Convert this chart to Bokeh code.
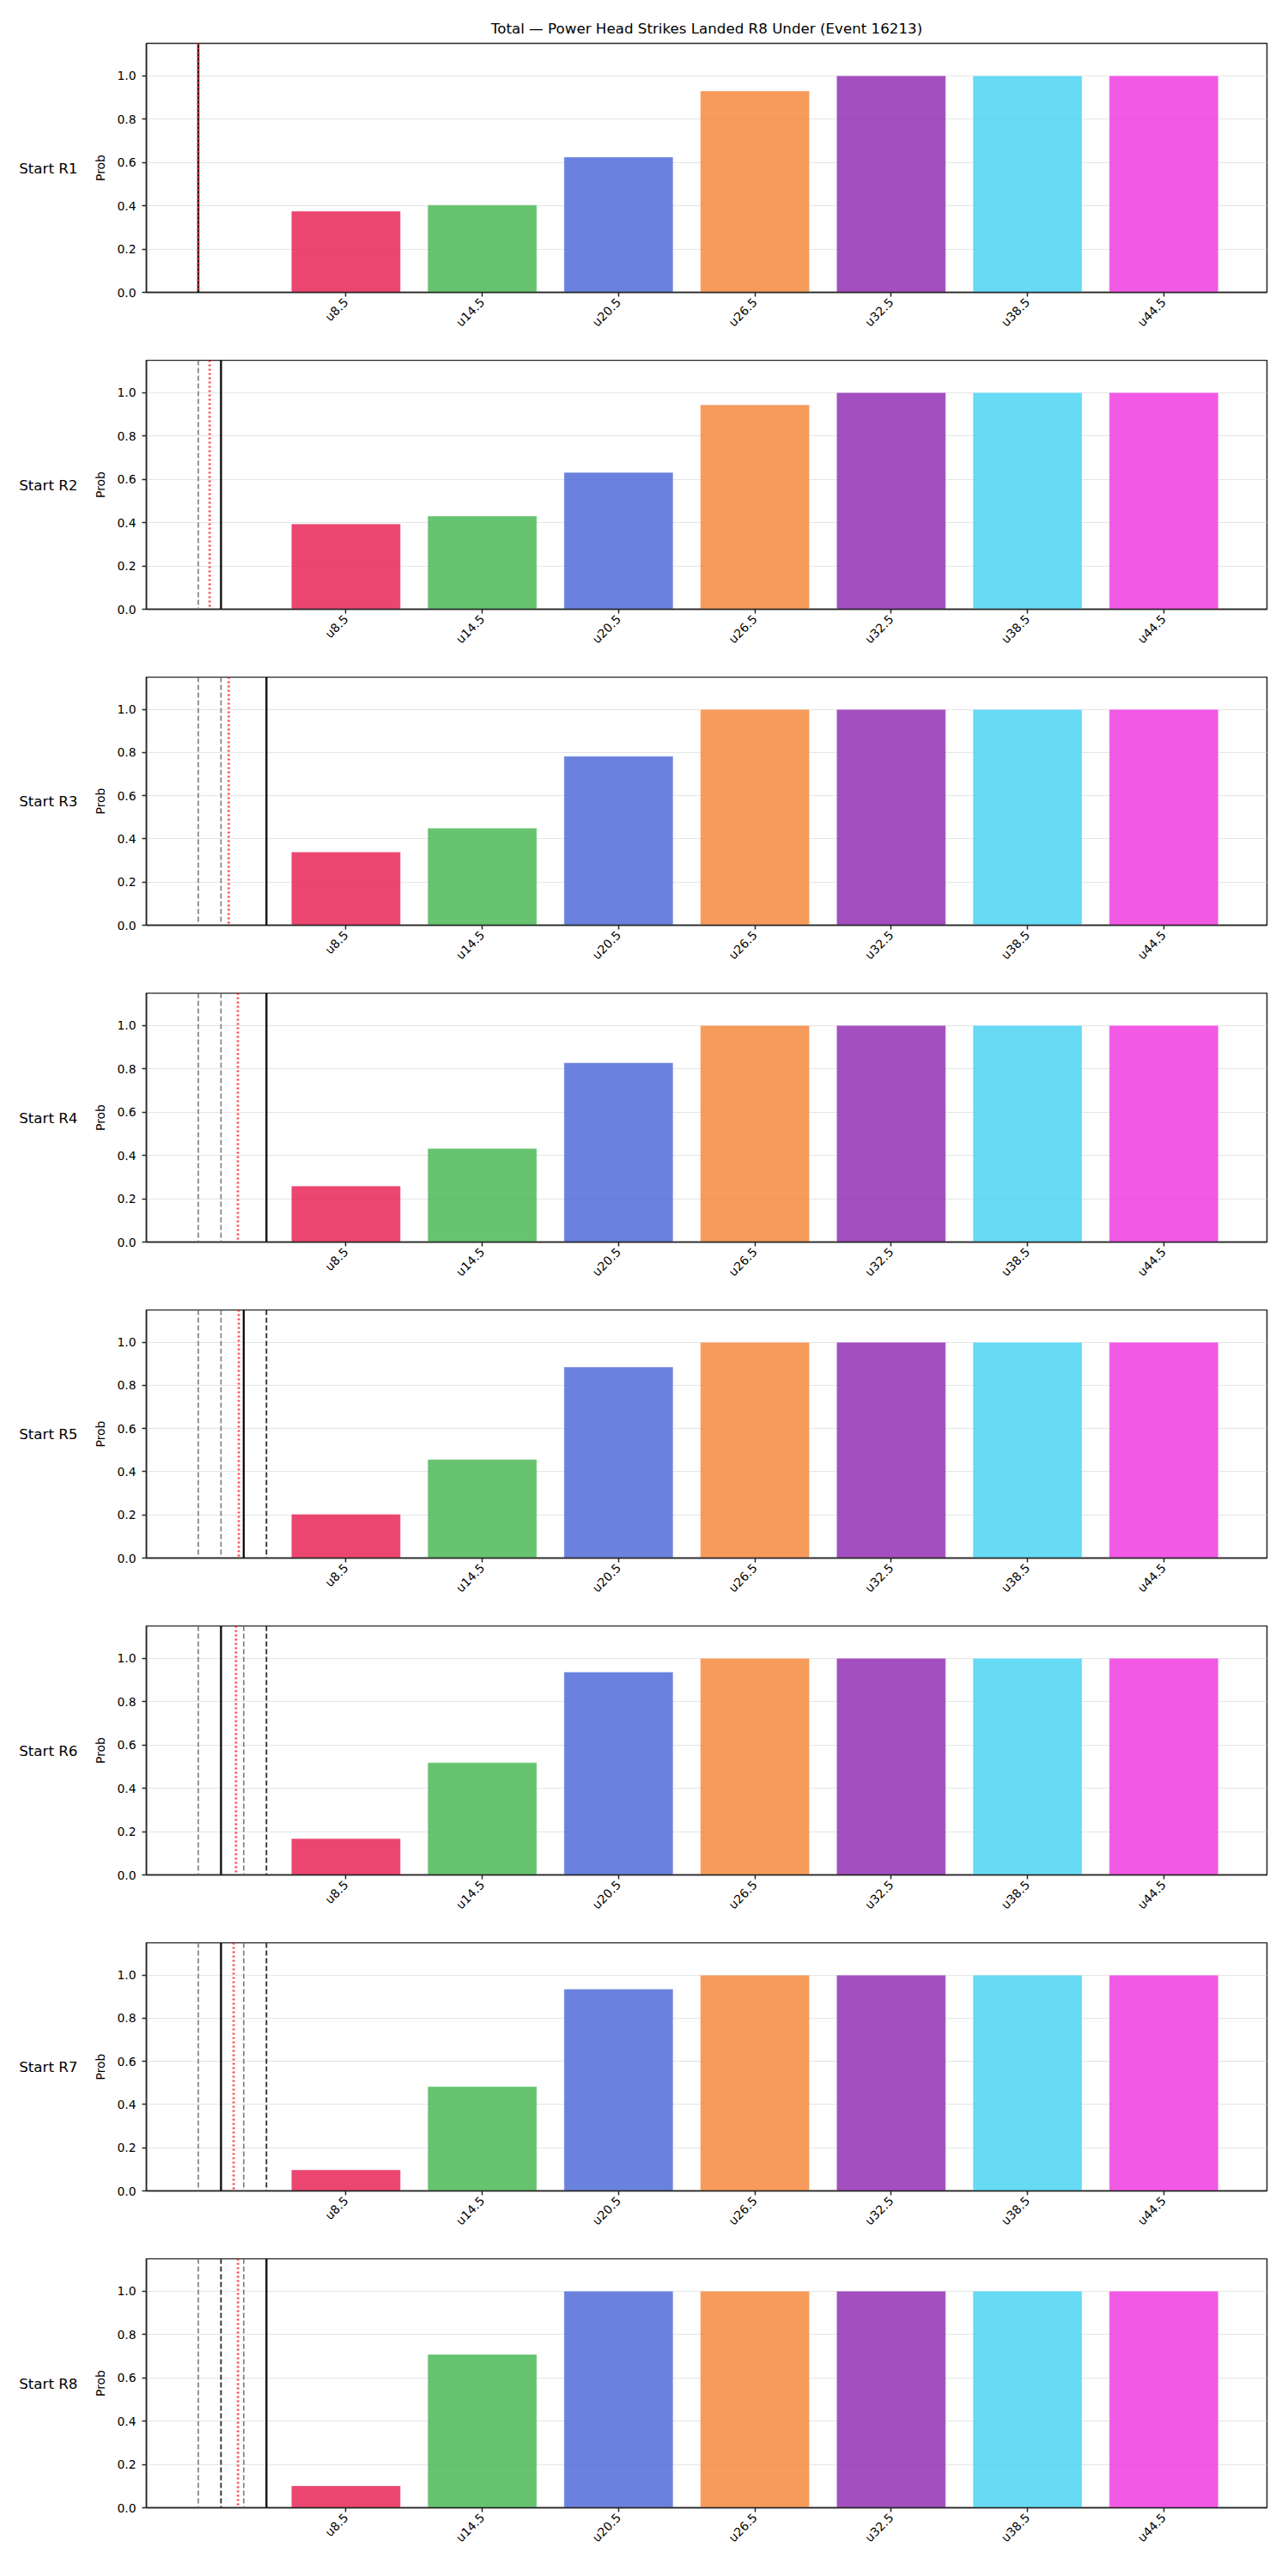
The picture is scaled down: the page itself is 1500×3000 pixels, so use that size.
import math

from bokeh.embed import file_html
from bokeh.layouts import column
from bokeh.models import FixedTicker, LinearAxis, NumeralTickFormatter, Range1d, Span
from bokeh.plotting import figure
from bokeh.resources import INLINE

TITLE = "Total — Power Head Strikes Landed R8 Under (Event 16213)"

# Under lines (x categories) and their bar colours
lines = ["u8.5", "u14.5", "u20.5", "u26.5", "u32.5", "u38.5", "u44.5"]
bar_colors = ["#e62657", "#4bb856", "#506cd8", "#f48a3e", "#9330b4", "#4cd4f2", "#f03ce1"]

# One row per starting round
starts = ["Start R1", "Start R2", "Start R3", "Start R4",
          "Start R5", "Start R6", "Start R7", "Start R8"]

# Probability of each under line, one list per line, indexed by starting round
prob_u8_5 = [0.375, 0.394, 0.339, 0.259, 0.203, 0.168, 0.097, 0.101]
prob_u14_5 = [0.403, 0.430, 0.450, 0.432, 0.457, 0.518, 0.483, 0.708]
prob_u20_5 = [0.625, 0.632, 0.783, 0.828, 0.885, 0.937, 0.935, 1.000]
prob_u26_5 = [0.930, 0.944, 1.000, 1.000, 1.000, 1.000, 1.000, 1.000]
prob_u32_5 = [1.000, 1.000, 1.000, 1.000, 1.000, 1.000, 1.000, 1.000]
prob_u38_5 = [1.000, 1.000, 1.000, 1.000, 1.000, 1.000, 1.000, 1.000]
prob_u44_5 = [1.000, 1.000, 1.000, 1.000, 1.000, 1.000, 1.000, 1.000]
probs = [prob_u8_5, prob_u14_5, prob_u20_5, prob_u26_5, prob_u32_5, prob_u38_5, prob_u44_5]

# Round markers drawn left of the bars (x in bar units)
round_marks = [-1.0833, -0.9167, -0.75, -0.5833]
solid_mark = [0, 1, 3, 3, 2, 1, 1, 3]
gray_dashed_marks = [[], [0], [0, 1], [0, 1], [0, 1], [0, 2], [0, 2], [0, 2]]
dark_dashed_marks = [[], [], [], [], [3], [3], [3], [1]]
live_x = [-1.0833, -1.0, -0.86, -0.793, -0.786, -0.807, -0.824, -0.792]

FONT = "DejaVu Sans"
AXIS_COLOR = "#262626"
X_RANGE = (-1.464, 6.757)
Y_MAX = 1.15

# Figure heights so that every frame sits on a regular pitch
heights = [419, 369, 368, 369, 368, 369, 368, 369]

figs = []
for r, start in enumerate(starts):
    top_border = 50 if r == 0 else 0
    p = figure(
        width=1500, height=heights[r],
        x_range=Range1d(*X_RANGE), y_range=Range1d(0, Y_MAX),
        output_backend="svg", toolbar_location=None,
        min_border_left=170, min_border_right=25,
        min_border_top=top_border, min_border_bottom=79,
        background_fill_color="white", border_fill_color="white",
    )
    if r == 0:
        p.title.text = TITLE
        p.title.align = "center"
        p.title.text_font = FONT
        p.title.text_font_size = "16.7px"
        p.title.text_font_style = "normal"
        p.title.text_color = "black"
        p.title.standoff = 16

    p.outline_line_color = AXIS_COLOR
    p.outline_line_width = 1.5
    p.outline_line_alpha = 1.0

    # bars
    xs = list(range(len(lines)))
    tops = [probs[j][r] for j in range(len(lines))]
    p.vbar(x=xs, top=tops, width=0.8, bottom=0,
           fill_color=bar_colors, fill_alpha=0.85,
           line_color="white", line_width=0.6, line_alpha=0.6)

    # round markers
    for k in gray_dashed_marks[r]:
        p.add_layout(Span(location=round_marks[k], dimension="height",
                          line_color="#7a7a7a", line_width=1.6, line_dash="6 3"))
    for k in dark_dashed_marks[r]:
        p.add_layout(Span(location=round_marks[k], dimension="height",
                          line_color="#2a2a2a", line_width=1.8, line_dash="6 3"))
    p.add_layout(Span(location=round_marks[solid_mark[r]], dimension="height",
                      line_color="#111111", line_width=2.4))
    p.add_layout(Span(location=live_x[r], dimension="height",
                      line_color="#ff3030", line_alpha=0.9, line_width=2.8, line_dash="2 3"))

    # axes
    p.xaxis.ticker = FixedTicker(ticks=xs)
    p.xaxis.major_label_overrides = {i: lab for i, lab in enumerate(lines)}
    p.xaxis.major_label_orientation = math.pi / 4
    p.yaxis.ticker = FixedTicker(ticks=[0.0, 0.2, 0.4, 0.6, 0.8, 1.0])
    p.yaxis.formatter = NumeralTickFormatter(format="0.0")
    p.yaxis.axis_label = "Prob"
    p.yaxis.axis_label_text_font = FONT
    p.yaxis.axis_label_text_font_size = "13.9px"
    p.yaxis.axis_label_text_font_style = "normal"
    p.yaxis.axis_label_text_color = "black"
    p.yaxis.axis_label_standoff = 8
    for ax in (p.xaxis, p.yaxis):
        ax.axis_line_color = AXIS_COLOR
        ax.axis_line_width = 1.5
        ax.major_tick_line_color = AXIS_COLOR
        ax.major_tick_line_width = 1.5
        ax.major_tick_out = 5
        ax.major_tick_in = 0
        ax.minor_tick_line_color = None
        ax.major_label_text_font = FONT
        ax.major_label_text_font_size = "13.9px"
        ax.major_label_text_color = "black"
    p.yaxis.major_label_standoff = 7
    p.xaxis.major_label_standoff = 4

    # row label: an outer left axis with a single tick at the frame's middle
    mid = Y_MAX / 2
    row_axis = LinearAxis(ticker=FixedTicker(ticks=[mid]),
                          major_label_overrides={mid: start},
                          axis_line_color=None, major_tick_line_color=None,
                          minor_tick_line_color=None,
                          major_tick_in=0, major_tick_out=0,
                          major_label_standoff=16,
                          major_label_text_font=FONT,
                          major_label_text_font_size="16.7px",
                          major_label_text_color="black")
    p.add_layout(row_axis, "left")

    p.xgrid.visible = False
    p.ygrid.grid_line_color = "#e5e5e5"
    p.ygrid.grid_line_width = 1

    figs.append(p)

layout = column(*figs, spacing=0)
open("out.html", "w").write(file_html(layout, INLINE, title="Power Head Strikes Landed"))
